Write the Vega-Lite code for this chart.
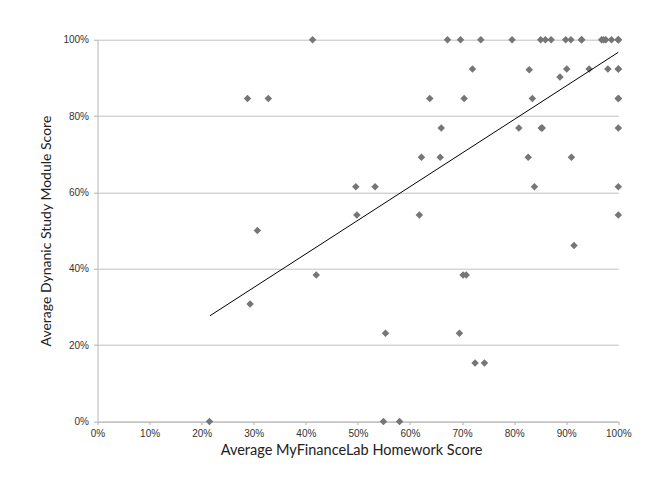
{
  "$schema": "https://vega.github.io/schema/vega-lite/v6.json",
  "width": 520.8,
  "height": 381.8,
  "autosize": "none",
  "padding": {"left": 97.5, "top": 39.7, "right": 46.7, "bottom": 60.5},
  "background": "white",
  "config": {
    "view": {"stroke": null},
    "axis": {
      "labelFont": "Liberation Sans",
      "labelFontSize": 10,
      "labelColor": "#333333",
      "titleFont": "Lato",
      "titleFontSize": 14,
      "titleFontWeight": "normal",
      "titleColor": "#222222",
      "domainColor": "#b8b8b8",
      "tickColor": "#b0b0b0",
      "gridColor": "#c0c0c0",
      "gridOpacity": 1
    }
  },
  "layer": [
    {
      "data": {"values": [
        {"x": 0.413, "y": 1.0}, {"x": 0.672, "y": 1.0}, {"x": 0.697, "y": 1.0}, {"x": 0.736, "y": 1.0},
        {"x": 0.796, "y": 1.0}, {"x": 0.851, "y": 1.0}, {"x": 0.860, "y": 1.0}, {"x": 0.871, "y": 1.0},
        {"x": 0.899, "y": 1.0}, {"x": 0.909, "y": 1.0}, {"x": 0.929, "y": 1.0}, {"x": 0.930, "y": 1.0},
        {"x": 0.968, "y": 1.0}, {"x": 0.972, "y": 1.0}, {"x": 0.976, "y": 1.0}, {"x": 0.987, "y": 1.0},
        {"x": 1.0, "y": 1.0}, {"x": 1.0, "y": 1.0}, {"x": 1.0, "y": 1.0},
        {"x": 0.720, "y": 0.923}, {"x": 0.829, "y": 0.921}, {"x": 0.901, "y": 0.923}, {"x": 0.944, "y": 0.923},
        {"x": 0.980, "y": 0.923}, {"x": 1.0, "y": 0.923}, {"x": 1.0, "y": 0.923},
        {"x": 0.888, "y": 0.902},
        {"x": 0.288, "y": 0.846}, {"x": 0.328, "y": 0.846}, {"x": 0.638, "y": 0.846}, {"x": 0.704, "y": 0.846},
        {"x": 0.835, "y": 0.846}, {"x": 1.0, "y": 0.846}, {"x": 1.0, "y": 0.846},
        {"x": 0.660, "y": 0.769}, {"x": 0.809, "y": 0.769}, {"x": 0.852, "y": 0.769}, {"x": 0.854, "y": 0.769},
        {"x": 1.0, "y": 0.769},
        {"x": 0.622, "y": 0.692}, {"x": 0.658, "y": 0.692}, {"x": 0.827, "y": 0.692}, {"x": 0.910, "y": 0.692},
        {"x": 0.496, "y": 0.615}, {"x": 0.533, "y": 0.615}, {"x": 0.839, "y": 0.615}, {"x": 1.0, "y": 0.615},
        {"x": 0.498, "y": 0.541}, {"x": 0.618, "y": 0.541}, {"x": 1.0, "y": 0.541},
        {"x": 0.307, "y": 0.5},
        {"x": 0.915, "y": 0.461},
        {"x": 0.420, "y": 0.384}, {"x": 0.702, "y": 0.384}, {"x": 0.708, "y": 0.384},
        {"x": 0.293, "y": 0.308},
        {"x": 0.553, "y": 0.231}, {"x": 0.695, "y": 0.231},
        {"x": 0.725, "y": 0.153}, {"x": 0.743, "y": 0.153},
        {"x": 0.215, "y": 0.0}, {"x": 0.549, "y": 0.0}, {"x": 0.580, "y": 0.0}
      ]},
      "mark": {"type": "point", "shape": "diamond", "filled": true, "size": 56, "color": "#767676", "opacity": 1},
      "encoding": {
        "x": {
          "field": "x", "type": "quantitative",
          "scale": {"domain": [0, 1], "nice": false, "zero": false},
          "axis": {
            "values": [0, 0.1, 0.2, 0.3, 0.4, 0.5, 0.6, 0.7, 0.8, 0.9, 1.0],
            "format": ".0%", "tickSize": 3, "labelPadding": 4, "labelFlush": false, "grid": false,
            "title": "Average MyFinanceLab Homework Score", "titlePadding": 5,
            "titleFontSize": 14.5, "titleX": 253.5
          }
        },
        "y": {
          "field": "y", "type": "quantitative",
          "scale": {"domain": [0, 1], "nice": false, "zero": false},
          "axis": {
            "values": [0, 0.2, 0.4, 0.6, 0.8, 1.0],
            "format": ".0%", "tickSize": 4, "labelPadding": 5, "labelFlush": false, "grid": true,
            "title": "Average Dynanic Study Module Score", "titlePadding": 9
          }
        }
      }
    },
    {
      "data": {"values": [{"tx": 0.216, "ty": 0.277}, {"tx": 1.0, "ty": 0.967}]},
      "mark": {"type": "line", "color": "black", "strokeWidth": 1},
      "encoding": {
        "x": {"field": "tx", "type": "quantitative"},
        "y": {"field": "ty", "type": "quantitative"}
      }
    }
  ]
}
